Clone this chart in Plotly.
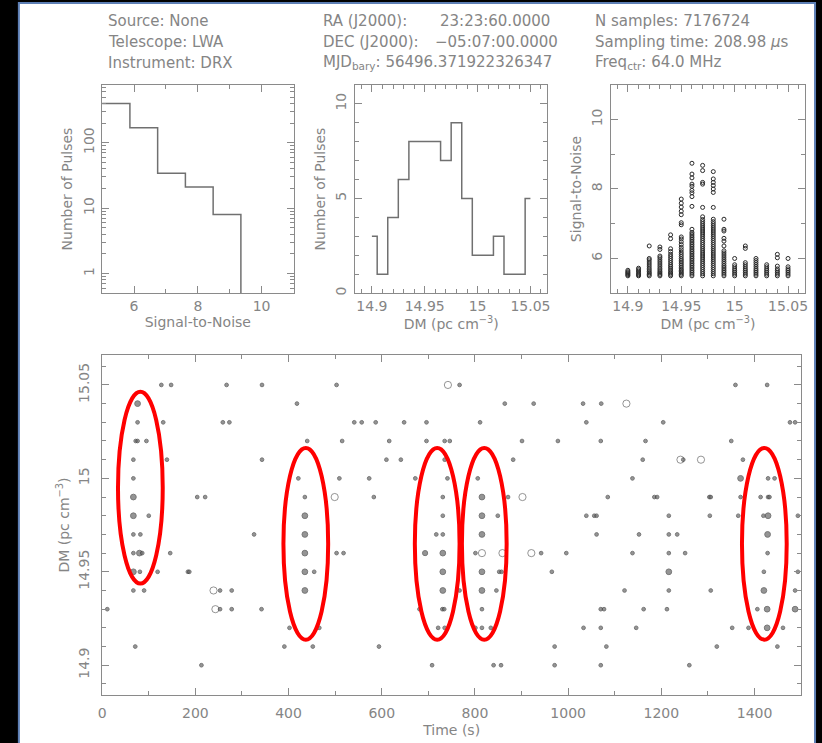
import plotly.graph_objects as go

W, H = 822, 743

# ---------------- header text ----------------
hdr_col1 = ["Source: None", "Telescope: LWA", "Instrument: DRX"]
hdr_col2_keys = ["RA (J2000):", "DEC (J2000):", "MJD<sub>bary</sub>: 56496.371922326347"]
hdr_col2_vals = ["23:23:60.0000", "\u221205:07:00.0000", ""]
hdr_col3 = ["N samples: 7176724", "Sampling time: 208.98 <i>\u03bc</i>s", "Freq<sub>ctr</sub>: 64.0 MHz"]

# ---------------- panel 1: SNR histogram ----------------
snr_bin_edges = [5.0, 5.87, 6.74, 7.61, 8.48, 9.35]
snr_counts = [397, 170, 34, 21, 8, 0]

# ---------------- panel 2: DM histogram ----------------
dm_bins = [14.90, 14.91, 14.92, 14.93, 14.94, 14.95, 14.96, 14.97,
           14.98, 14.99, 15.00, 15.01, 15.02, 15.03, 15.04, 15.05]
dm_counts = [3, 1, 4, 6, 8, 8, 8, 7, 9, 5, 2, 2, 3, 1, 1, 5]

# ---------------- panel 3: SNR vs DM (per DM column) ----------------
snr_1490 = [5.50, 5.53, 5.56, 5.59, 5.62, 5.66]
snr_1491 = [5.50, 5.53, 5.56, 5.60, 5.64, 5.68, 5.72]
snr_1492 = [5.50, 5.54, 5.58, 5.62, 5.67, 5.72, 5.78, 5.84, 5.90, 5.96, 6.00, 6.36]
snr_1493 = [5.50, 5.54, 5.58, 5.62, 5.67, 5.72, 5.78, 5.84, 5.90, 5.96, 6.02, 6.07, 6.26, 6.33]
snr_1494 = [5.50, 5.54, 5.58, 5.62, 5.67, 5.72, 5.77, 5.82, 5.88, 5.94, 6.00, 6.06, 6.12,
            6.20, 6.28, 6.57, 6.68]
snr_1495 = [5.50, 5.54, 5.58, 5.62, 5.66, 5.70, 5.75, 5.80, 5.85, 5.90, 5.95, 6.00, 6.06,
            6.12, 6.18, 6.25, 6.32, 6.40, 6.48, 6.56, 6.62, 6.97, 7.03, 7.26, 7.36, 7.48,
            7.59, 7.71]
snr_1496 = [5.50, 5.55, 5.60, 5.65, 5.70, 5.75, 5.80, 5.85, 5.90, 5.95, 6.00, 6.05, 6.10,
            6.15, 6.20, 6.25, 6.30, 6.35, 6.40, 6.45, 6.50, 6.55, 6.60, 6.65, 6.70, 6.75,
            6.84, 7.50, 7.78, 7.89, 7.96, 8.08, 8.14, 8.32, 8.43, 8.74]
snr_1497 = [5.50, 5.56, 5.62, 5.68, 5.74, 5.80, 5.86, 5.92, 5.98, 6.04, 6.10, 6.16, 6.22,
            6.28, 6.34, 6.40, 6.46, 6.52, 6.58, 6.64, 6.70, 6.76, 6.82, 6.88, 6.94, 7.00,
            7.06, 7.12, 7.20, 7.47, 8.14, 8.19, 8.53, 8.68]
snr_1498 = [5.50, 5.56, 5.62, 5.68, 5.74, 5.80, 5.86, 5.92, 5.98, 6.04, 6.10, 6.16, 6.22,
            6.28, 6.34, 6.40, 6.46, 6.52, 6.58, 6.64, 6.70, 6.76, 6.82, 6.88, 6.94, 7.00,
            7.06, 7.13, 7.47, 7.90, 8.00, 8.10, 8.19, 8.29, 8.50]
snr_1499 = [5.50, 5.55, 5.60, 5.65, 5.70, 5.75, 5.80, 5.86, 5.92, 5.98, 6.04, 6.10, 6.16,
            6.22, 6.36, 6.50, 6.58, 6.79, 6.84, 7.13]
snr_1500 = [5.50, 5.55, 5.60, 5.65, 5.70, 5.76, 5.82, 6.00]
snr_1501 = [5.50, 5.55, 5.60, 5.65, 5.70, 5.76, 5.82, 5.88, 6.29, 6.36]
snr_1502 = [5.50, 5.55, 5.60, 5.65, 5.70, 5.76, 5.82, 5.88, 5.94, 6.00]
snr_1503 = [5.50, 5.55, 5.60, 5.65, 5.70, 5.76, 5.82]
snr_1504 = [5.50, 5.55, 5.60, 5.65, 5.70, 5.78, 6.02, 6.12]
snr_1505 = [5.50, 5.55, 5.60, 5.65, 5.70, 5.76, 6.00]
snr_columns = [snr_1490, snr_1491, snr_1492, snr_1493, snr_1494, snr_1495, snr_1496, snr_1497,
               snr_1498, snr_1499, snr_1500, snr_1501, snr_1502, snr_1503, snr_1504, snr_1505]

# ---------------- bottom panel: time vs DM, per DM row ----------------
row_dms = [15.05, 15.04, 15.03, 15.02, 15.01, 15.00, 14.99, 14.98,
           14.97, 14.96, 14.95, 14.94, 14.93, 14.92, 14.91, 14.90]
t_1505 = [127, 148, 267, 343, 503, 742, 767, 1359, 1427]
s_1505 = [5.7, 5.7, 5.7, 5.7, 5.7, 7.6, 5.7, 5.7, 5.7]
t_1504 = [76, 418, 864, 926, 1032, 1071, 1125]
s_1504 = [6.8, 5.7, 5.7, 5.7, 5.7, 5.7, 7.6]
t_1503 = [76, 131, 259, 273, 541, 557, 587, 648, 696, 811, 1039, 1204, 1476, 1487]
s_1503 = [5.7, 5.7, 5.7, 5.7, 5.7, 5.7, 5.7, 5.7, 5.7, 5.7, 5.7, 5.7, 5.7, 5.7]
t_1502 = [72, 76, 95, 440, 515, 616, 696, 735, 746, 901, 978, 1070, 1166, 1350]
s_1502 = [5.7, 5.7, 5.7, 5.7, 5.7, 5.7, 5.7, 5.7, 5.7, 5.7, 5.7, 5.7, 5.7, 5.7]
t_1501 = [67, 139, 343, 610, 641, 735, 882, 1160, 1241, 1247, 1285, 1375]
s_1501 = [5.7, 5.7, 5.7, 5.7, 5.7, 5.7, 5.7, 5.7, 7.6, 5.7, 7.6, 5.7]
t_1500 = [67, 421, 509, 573, 672, 741, 806, 1138, 1370, 1429, 1443]
s_1500 = [5.7, 5.7, 5.7, 5.7, 5.7, 5.7, 5.7, 5.7, 6.8, 5.7, 5.7]
t_1499 = [67, 204, 221, 435, 499, 583, 731, 815, 871, 902, 1085, 1185, 1191, 1303, 1306,
          1370, 1413, 1429, 1432]
s_1499 = [6.8, 5.7, 5.7, 5.7, 7.6, 5.7, 5.7, 6.8, 5.7, 7.6, 5.7, 5.7, 5.7, 5.7, 5.7,
          5.7, 5.7, 5.7, 5.7]
t_1498 = [67, 100, 435, 731, 815, 849, 1039, 1056, 1061, 1216, 1304, 1365, 1419, 1429, 1493]
s_1498 = [6.8, 5.7, 6.8, 5.7, 6.8, 5.7, 5.7, 5.7, 5.7, 5.7, 5.7, 5.7, 5.7, 6.8, 5.7]
t_1497 = [67, 82, 326, 435, 717, 731, 815, 1061, 1152, 1216, 1234, 1428]
s_1497 = [5.7, 5.7, 5.7, 6.8, 5.7, 5.7, 6.8, 5.7, 5.7, 5.7, 5.7, 6.8]
t_1496 = [67, 80, 86, 146, 435, 503, 518, 693, 731, 801, 815, 859, 921, 942, 996, 1138,
          1216, 1251, 1428]
s_1496 = [5.7, 6.8, 5.7, 5.7, 6.8, 5.7, 5.7, 6.5, 6.8, 5.7, 7.6, 7.6, 7.6, 5.7, 5.7, 5.7,
          5.7, 5.7, 5.7]
t_1495 = [67, 81, 119, 184, 187, 435, 455, 731, 815, 852, 857, 965, 1216, 1420, 1493]
s_1495 = [6.8, 5.7, 5.7, 5.7, 5.7, 6.8, 5.7, 6.8, 6.8, 5.7, 5.7, 5.7, 6.8, 5.7, 5.7]
t_1494 = [67, 90, 239, 253, 278, 435, 731, 767, 815, 846, 1121, 1216, 1306, 1420, 1487]
s_1494 = [5.7, 5.7, 7.6, 5.7, 5.7, 6.8, 6.8, 5.7, 6.8, 5.7, 5.7, 5.7, 5.7, 6.8, 5.7]
t_1493 = [11, 243, 253, 278, 342, 681, 730, 734, 815, 1070, 1077, 1162, 1212, 1406, 1427, 1487]
s_1493 = [5.7, 7.6, 5.7, 5.7, 5.7, 5.7, 5.7, 5.7, 5.7, 5.7, 5.7, 5.7, 5.7, 5.7, 6.8, 6.8]
t_1492 = [402, 466, 721, 735, 801, 815, 834, 1033, 1070, 1146, 1352, 1387, 1427, 1461]
s_1492 = [5.7, 5.7, 5.7, 5.7, 5.7, 5.7, 5.7, 5.7, 5.7, 5.7, 5.7, 5.7, 6.8, 5.7]
t_1491 = [71, 391, 452, 594, 971, 1082, 1319, 1449]
s_1491 = [5.7, 5.7, 5.7, 5.7, 5.7, 5.7, 5.7, 5.7]
t_1490 = [213, 708, 840, 856, 971, 1070, 1260]
s_1490 = [5.7, 5.7, 5.7, 5.7, 5.7, 5.7, 5.7]
row_times = [t_1505, t_1504, t_1503, t_1502, t_1501, t_1500, t_1499, t_1498,
             t_1497, t_1496, t_1495, t_1494, t_1493, t_1492, t_1491, t_1490]
row_snrs = [s_1505, s_1504, s_1503, s_1502, s_1501, s_1500, s_1499, s_1498,
            s_1497, s_1496, s_1495, s_1494, s_1493, s_1492, s_1491, s_1490]

# highlighted pulse groups (red ellipses): centre time (s), centre DM
group_time = [82, 437, 719, 820, 1421]
group_dm = [14.995, 14.965, 14.965, 14.965, 14.965]
group_half_time = 48
group_half_dm = 0.0513

# ---------------- build figure ----------------
GREY = "#858585"
AX = "#8a8a8a"
FONT = "DejaVu Sans"

fig = go.Figure()

# panel 1
fig.add_trace(go.Scatter(
    x=snr_bin_edges, y=[c if c > 0 else 0.05 for c in snr_counts],
    mode="lines", line=dict(color="#707070", width=1.5, shape="hv"),
    xaxis="x", yaxis="y", showlegend=False, hoverinfo="skip"))

# panel 2
fig.add_trace(go.Scatter(
    x=dm_bins, y=dm_counts, mode="lines",
    line=dict(color="#707070", width=1.5, shape="hvh"),
    xaxis="x2", yaxis="y2", showlegend=False, hoverinfo="skip"))

# panel 3
sx, sy = [], []
for dm, col in zip(dm_bins, snr_columns):
    for v in col:
        sx.append(dm)
        sy.append(v)
fig.add_trace(go.Scatter(
    x=sx, y=sy, mode="markers",
    marker=dict(symbol="circle-open", size=4, color="#2a2a2a", line=dict(width=1, color="#2a2a2a")),
    xaxis="x3", yaxis="y3", showlegend=False, hoverinfo="skip"))

# bottom panel
bx, by, bs = [], [], []
for dm, ts, ss in zip(row_dms, row_times, row_snrs):
    for t, s in zip(ts, ss):
        bx.append(t)
        by.append(dm)
        bs.append(s)
sizes = [2.4 + (s - 5.0) * 1.85 for s in bs]
symbols = ["circle-open" if s > 7.3 else "circle" for s in bs]
fig.add_trace(go.Scatter(
    x=bx, y=by, mode="markers",
    marker=dict(symbol=symbols, size=sizes, color="#686868",
                line=dict(width=1, color="#404040")),
    xaxis="x4", yaxis="y4", showlegend=False, hoverinfo="skip"))


def dom_x(a, b):
    return [a / W, b / W]


def dom_y(top, bottom):
    return [1 - bottom / H, 1 - top / H]


tickfont = dict(family=FONT, size=14, color=GREY)
titlefont = dict(family=FONT, size=14, color=GREY)
base = dict(showline=True, linecolor=AX, linewidth=1, mirror="ticks",
            ticks="inside", ticklen=7, tickcolor=AX, tickwidth=1,
            showgrid=False, zeroline=False, tickfont=tickfont)
minor1 = dict(ticks="inside", ticklen=4, tickcolor=AX, showgrid=False)

dm_ticks = [14.9, 14.95, 15.0, 15.05]
dm_text = ["14.9", "14.95", "15", "15.05"]
DM_RANGE = [14.884, 15.066]
dm_title = "DM (pc cm<sup>\u22123</sup>)"

fig.update_layout(
    width=W, height=H,
    margin=dict(l=0, r=0, t=0, b=0),
    paper_bgcolor="black", plot_bgcolor="white",
    xaxis=dict(base, domain=dom_x(99, 292), anchor="y", range=[5, 11],
               tickvals=[6, 8, 10], ticklabelstandoff=0,
               minor=dict(minor1, tickmode="linear", tick0=5, dtick=1),
               title=dict(text="Signal-to-Noise", font=titlefont, standoff=0)),
    yaxis=dict(base, domain=dom_y(85, 294), anchor="x", type="log",
               range=[-0.301, 2.886], tickvals=[1, 10, 100], ticktext=["1", "10", "100"],
               tickangle=-90, ticklabelstandoff=2,
               minor=dict(minor1, tickmode="array",
                          tickvals=[0.6, 0.7, 0.8, 0.9, 2, 3, 4, 5, 6, 7, 8, 9,
                                    20, 30, 40, 50, 60, 70, 80, 90, 200, 300, 400, 500, 600, 700]),
               title=dict(text="Number of Pulses", font=titlefont, standoff=4)),
    xaxis2=dict(base, domain=dom_x(354, 548), anchor="y2", range=DM_RANGE,
                tickvals=dm_ticks, ticktext=dm_text, ticklabelstandoff=0,
                minor=dict(minor1, tickmode="linear", tick0=14.9, dtick=0.01),
                title=dict(text=dm_title, font=titlefont, standoff=0)),
    yaxis2=dict(base, domain=dom_y(85, 294), anchor="x2", range=[0, 11],
                tickvals=[0, 5, 10], tickangle=-90, ticklabelstandoff=2,
                minor=dict(minor1, tickmode="linear", tick0=0, dtick=1),
                title=dict(text="Number of Pulses", font=titlefont, standoff=4)),
    xaxis3=dict(base, domain=dom_x(612, 808), anchor="y3", range=DM_RANGE,
                tickvals=dm_ticks, ticktext=dm_text, ticklabelstandoff=0,
                minor=dict(minor1, tickmode="linear", tick0=14.9, dtick=0.01),
                title=dict(text=dm_title, font=titlefont, standoff=0)),
    yaxis3=dict(base, domain=dom_y(85, 294), anchor="x3", range=[5, 11],
                tickvals=[6, 8, 10], tickangle=-90, ticklabelstandoff=2,
                minor=dict(minor1, tickmode="linear", tick0=5, dtick=1),
                title=dict(text="Signal-to-Noise", font=titlefont, standoff=4)),
    xaxis4=dict(base, domain=dom_x(99, 804), anchor="y4", range=[0, 1500],
                tickmode="linear", tick0=0, dtick=200, ticklabelstandoff=5,
                minor=dict(minor1, tickmode="linear", tick0=0, dtick=100),
                title=dict(text="Time (s)", font=titlefont, standoff=5)),
    yaxis4=dict(base, domain=dom_y(356, 697), anchor="x4", range=DM_RANGE,
                tickvals=dm_ticks, ticktext=dm_text, tickangle=-90, ticklabelstandoff=7,
                minor=dict(minor1, tickmode="linear", tick0=14.9, dtick=0.01),
                title=dict(text=dm_title, font=titlefont, standoff=2)),
)

shapes = [dict(type="rect", xref="paper", yref="paper",
               x0=15 / W, x1=818 / W, y0=-0.02, y1=1 - 3 / H,
               fillcolor="white", line=dict(color="#5d7fb5", width=2), layer="below")]
for gt, gd in zip(group_time, group_dm):
    shapes.append(dict(type="circle", xref="x4", yref="y4",
                       x0=gt - group_half_time, x1=gt + group_half_time,
                       y0=gd - group_half_dm, y1=gd + group_half_dm,
                       line=dict(color="#ff0000", width=4), layer="above"))
fig.update_layout(shapes=shapes)

hfont = dict(family=FONT, size=15, color=GREY)
row_y = [21, 42, 63]
ann = []
for i in range(3):
    ann.append(dict(text=hdr_col1[i], x=103 / W, y=1 - row_y[i] / H))
    ann.append(dict(text=hdr_col2_keys[i], x=320 / W, y=1 - row_y[i] / H))
    if hdr_col2_vals[i]:
        ann.append(dict(text=hdr_col2_vals[i], x=(438 if i == 0 else 433) / W, y=1 - row_y[i] / H))
    ann.append(dict(text=hdr_col3[i], x=594 / W, y=1 - row_y[i] / H))
for a in ann:
    a.update(xref="paper", yref="paper", xanchor="left", yanchor="middle",
             showarrow=False, font=hfont)
fig.update_layout(annotations=ann)

fig.write_html("out.html")
